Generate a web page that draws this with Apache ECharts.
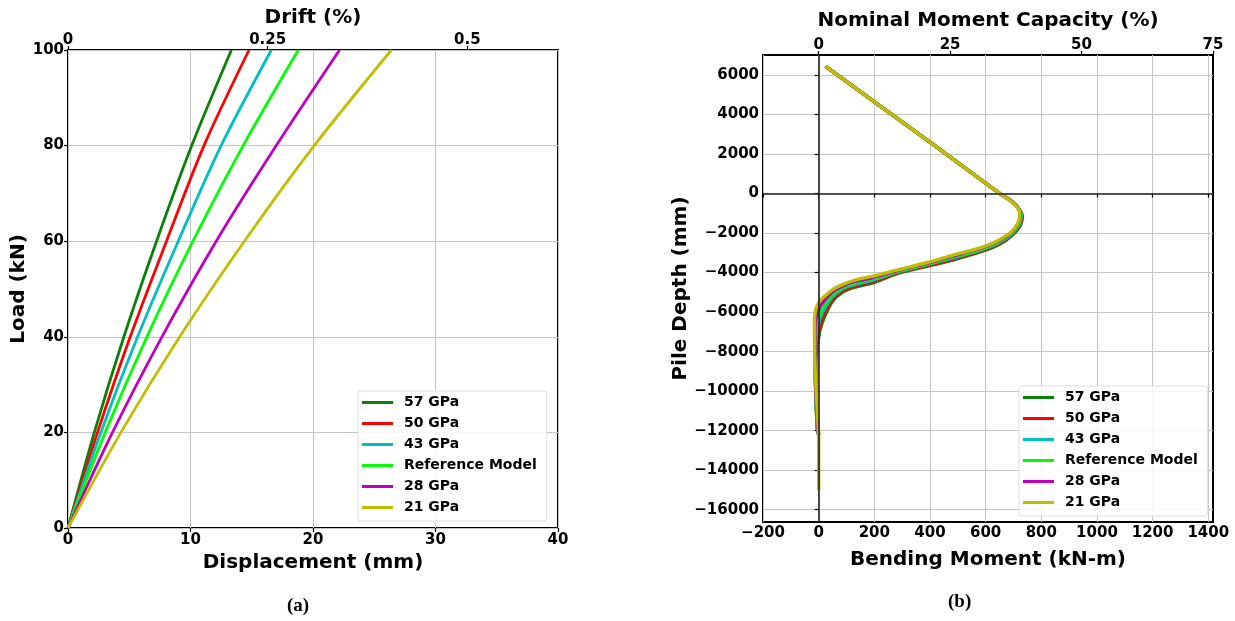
<!DOCTYPE html>
<html>
<head>
<meta charset="utf-8">
<script src="https://cdn.jsdelivr.net/npm/echarts@6/dist/echarts.min.js"></script>
<style>
html,body{margin:0;padding:0;background:#fff;}
#chart{width:1235px;height:621px;}
</style>
</head>
<body>
<div id="chart"></div>
<script>
// ---------------- data ----------------
const seriesNames = ['57 GPa', '50 GPa', '43 GPa', 'Reference Model', '28 GPa', '21 GPa'];
const seriesColors = ['#0a800a', '#ff0000', '#00bfbf', '#00ff00', '#bf00bf', '#bfbf00'];

// (a) load-displacement
const loadLevels = [0, 20, 40, 60, 80, 100];
const disp57  = [0, 2.15, 4.56, 7.23, 10.1, 13.34];
const disp50  = [0, 2.41, 5.08, 8.04, 11.1, 14.78];
const disp43  = [0, 2.68, 5.68, 9.0, 12.5, 16.6];
const dispRef = [0, 3.04, 6.44, 10.2, 14.3, 18.8];
const disp28  = [0, 3.63, 7.67, 12.1, 17.0, 22.17];
const disp21  = [0, 4.32, 9.12, 14.4, 20.1, 26.4];
const pileHeightMm = 6520;           // drift (%) = displacement / height
const driftTicks = [0, 0.25, 0.5];

// (b) bending moment vs pile depth
const mom57 = [25, 400, 651, 702, 732, 725, 698, 648, 588, 488, 390, 290, 195, 130, 85, 50, 22, 5, 0, -6, -10, -10, -8, -5, 0];
const dep57 = [6430, 2600, 0, -480, -1150, -1600, -2080, -2580, -2920, -3340, -3680, -4010, -4515, -4740, -5000, -5450, -6200, -6880, -7300, -7800, -8500, -9700, -11000, -11900, -12200];
const mom50 = [25, 400, 651, 701, 730, 723, 696, 646, 586, 486, 390, 290, 195, 130, 85, 50, 22, 5, 0, -7, -11, -11, -8, -5, 0];
const dep50 = [6430, 2600, 0, -478, -1120, -1580, -2060, -2550, -2890, -3300, -3640, -3980, -4450, -4670, -4920, -5330, -6000, -6580, -6950, -7500, -8200, -9500, -10800, -11900, -12200];
const mom43 = [25, 400, 651, 700, 729, 721, 694, 644, 584, 484, 390, 290, 195, 130, 85, 50, 22, 5, 0, -8, -12, -12, -9, -5, 0];
const dep43 = [6430, 2600, 0, -475, -1090, -1550, -2040, -2510, -2850, -3260, -3600, -3940, -4380, -4600, -4840, -5210, -5800, -6290, -6590, -7100, -7900, -9300, -10600, -11800, -12200];
const momRef = [25, 400, 651, 700, 727, 719, 692, 642, 582, 482, 390, 290, 195, 130, 85, 50, 22, 5, 0, -9, -12, -12, -9, -4, 0];
const depRef = [6430, 2600, 0, -475, -1060, -1530, -2010, -2480, -2820, -3210, -3570, -3910, -4310, -4520, -4770, -5100, -5590, -5990, -6240, -6700, -7500, -9000, -10500, -11800, -12200];
const mom28 = [25, 400, 651, 699, 725, 717, 690, 640, 580, 480, 390, 290, 195, 130, 85, 50, 22, 5, 0, -10, -13, -13, -9, -4, 0];
const dep28 = [6430, 2600, 0, -470, -1030, -1500, -1990, -2440, -2780, -3170, -3530, -3870, -4250, -4450, -4690, -4980, -5390, -5700, -5880, -6300, -7000, -8800, -10400, -11700, -12200];
const mom21 = [25, 400, 651, 699, 723, 717, 690, 640, 580, 480, 390, 290, 195, 130, 85, 50, 22, 5, 0, -11, -15, -14, -9, -3, 0, 0];
const dep21 = [6430, 2600, 0, -470, -1000, -1480, -1970, -2410, -2750, -3130, -3490, -3840, -4180, -4380, -4610, -4860, -5190, -5400, -5530, -5870, -6400, -8400, -10000, -11500, -12200, -15000];
const nominalCapacity = 1889;        // kN-m, for the % axis
const momentTicks = [-200, 0, 200, 400, 600, 800, 1000, 1200, 1400];
const capacityTicks = [0, 25, 50, 75];
const depthTicks = [-16000, -14000, -12000, -10000, -8000, -6000, -4000, -2000, 0, 2000, 4000, 6000];

// ---------------- chart ----------------
const dispSets = [disp57, disp50, disp43, dispRef, disp28, disp21];
const momSets = [mom57, mom50, mom43, momRef, mom28, mom21];
const depSets = [dep57, dep50, dep43, depRef, dep28, dep21];

const FONT = 'DejaVu Sans';
const minus = v => String(v).replace('-', '\u2212');
const tickLabel = {fontFamily: FONT, fontWeight: 'bold', fontSize: 15, color: '#000'};
const nameStyle = {fontFamily: FONT, fontWeight: 'bold', fontSize: 20, color: '#000'};
const gridLine = {show: true, lineStyle: {color: '#c4c4c4', width: 1}};
const tickStyle = {show: true, length: 4, lineStyle: {color: '#000', width: 1.2}};

const momMin = -200, momMax = 1417;
const depMin = -16620, depMax = 7010;
const dispMax = 40;

const series = [];
seriesNames.forEach((name, i) => {
  series.push({
    name: name, type: 'line', xAxisIndex: 0, yAxisIndex: 0,
    data: loadLevels.map((p, k) => [dispSets[i][k], p]),
    showSymbol: false, smooth: 0.3, z: 3,
    lineStyle: {color: seriesColors[i], width: 2.8},
    itemStyle: {color: seriesColors[i]}
  });
});
series.push({
  name: 'axes0', type: 'line', xAxisIndex: 2, yAxisIndex: 1,
  data: [[0, 0]], showSymbol: false, lineStyle: {width: 0}, z: 1, silent: true,
  markLine: {
    symbol: 'none', silent: true, label: {show: false},
    lineStyle: {color: '#222', width: 1.6, type: 'solid'},
    data: [{xAxis: 0}, {yAxis: 0}]
  }
});
seriesNames.forEach((name, i) => {
  series.push({
    name: name, type: 'line', xAxisIndex: 2, yAxisIndex: 1,
    data: momSets[i].map((m, k) => [m, depSets[i][k]]),
    showSymbol: false, smooth: 0.25, z: 3,
    lineStyle: {color: seriesColors[i], width: 3.4},
    itemStyle: {color: seriesColors[i]}
  });
});

const legendBase = {
  orient: 'vertical', data: seriesNames.map(n => ({name: n, icon: 'rect'})),
  itemWidth: 31, itemHeight: 3, itemGap: 6,
  backgroundColor: 'rgba(255,255,255,0.85)', borderColor: '#dddddd', borderWidth: 1, borderRadius: 3,
  textStyle: {fontFamily: FONT, fontWeight: 'bold', fontSize: 14, color: '#000', lineHeight: 15, padding: [0, 0, 0, 6]},
  selectedMode: false
};

const option = {
  animation: false,
  backgroundColor: '#fff',
  grid: [
    {left: 68, top: 50, width: 490, height: 478, show: true, borderColor: '#000', borderWidth: 2, backgroundColor: 'transparent', outerBoundsMode: 'none'},
    {left: 763, top: 55, width: 450, height: 467, show: true, borderColor: '#000', borderWidth: 2, backgroundColor: 'transparent', outerBoundsMode: 'none'}
  ],
  legend: [
    Object.assign({}, legendBase, {left: 358, top: 391, padding: [4, 10, 6, 4]}),
    Object.assign({}, legendBase, {left: 1019, top: 386, padding: [4, 10, 6, 4]})
  ],
  xAxis: [
    {gridIndex: 0, type: 'value', position: 'bottom', min: 0, max: dispMax, interval: 10,
     name: 'Displacement (mm)', nameLocation: 'middle', nameGap: 17, nameTextStyle: nameStyle,
     axisLine: {show: false}, axisTick: tickStyle, splitLine: gridLine,
     axisLabel: Object.assign({margin: 5}, tickLabel)},
    {gridIndex: 0, type: 'value', position: 'top', min: 0, max: dispMax / pileHeightMm * 100,
     name: 'Drift (%)', nameLocation: 'middle', nameGap: 13, nameTextStyle: nameStyle,
     axisLine: {show: false}, splitLine: {show: false},
     axisTick: Object.assign({customValues: driftTicks}, tickStyle),
     axisLabel: Object.assign({margin: 2, customValues: driftTicks, formatter: v => String(v)}, tickLabel)},
    {gridIndex: 1, type: 'value', position: 'bottom', min: momMin, max: momMax,
     name: 'Bending Moment (kN-m)', nameLocation: 'middle', nameGap: 28, nameTextStyle: nameStyle,
     axisLine: {show: false}, splitLine: gridLine,
     axisTick: Object.assign({customValues: momentTicks}, tickStyle),
     axisLabel: Object.assign({margin: 4, customValues: momentTicks, formatter: minus}, tickLabel)},
    {gridIndex: 1, type: 'value', position: 'top', min: momMin / nominalCapacity * 100, max: momMax / nominalCapacity * 100,
     name: 'Nominal Moment Capacity (%)', nameLocation: 'middle', nameGap: 24, nameTextStyle: nameStyle,
     axisLine: {show: false}, splitLine: {show: false},
     axisTick: Object.assign({customValues: capacityTicks}, tickStyle),
     axisLabel: Object.assign({margin: 2, customValues: capacityTicks, formatter: v => String(v)}, tickLabel)}
  ],
  yAxis: [
    {gridIndex: 0, type: 'value', min: 0, max: 100, interval: 20,
     name: 'Load (kN)', nameLocation: 'middle', nameGap: 36, nameTextStyle: nameStyle,
     axisLine: {show: false}, axisTick: tickStyle, splitLine: gridLine,
     axisLabel: Object.assign({margin: 4}, tickLabel)},
    {gridIndex: 1, type: 'value', min: depMin, max: depMax,
     name: 'Pile Depth (mm)', nameLocation: 'middle', nameGap: 68, nameTextStyle: nameStyle,
     axisLine: {show: false}, splitLine: gridLine,
     axisTick: Object.assign({customValues: depthTicks}, tickStyle),
     axisLabel: Object.assign({margin: 4, customValues: depthTicks, formatter: minus}, tickLabel)}
  ],
  series: series,
  graphic: [
    {type: 'text', left: 287, top: 597, style: {text: '(a)', font: 'bold 19px "Liberation Serif"', fill: '#000'}},
    {type: 'text', left: 948, top: 593, style: {text: '(b)', font: 'bold 19px "Liberation Serif"', fill: '#000'}}
  ]
};

const chart = echarts.init(document.getElementById('chart'), null, {renderer: 'canvas'});
chart.setOption(option);
</script>
</body>
</html>
